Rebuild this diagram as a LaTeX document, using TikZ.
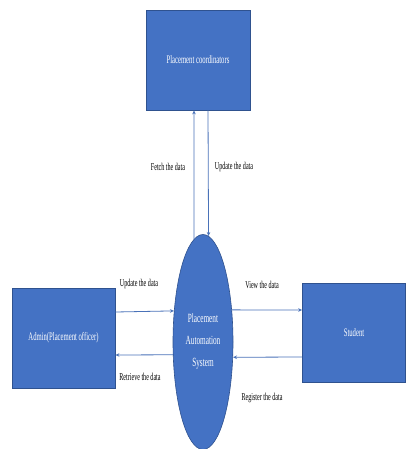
\documentclass[tikz,border=0pt]{standalone}
\usepackage{fontspec}
\setmainfont{Liberation Serif}
\newfontfamily\narrowfont[FakeStretch=0.58]{Liberation Serif}
\usetikzlibrary{shapes.geometric,arrows.meta}
\definecolor{boxblue}{HTML}{4472C4}
\definecolor{edgeblue}{HTML}{2F528F}
\definecolor{lineblue}{HTML}{4A72B8}
\tikzset{
  entity/.style={draw=edgeblue, line width=0.8pt, fill=boxblue, text=white,
    font=\narrowfont\fontsize{11.5}{13}\selectfont, inner sep=0pt},
  proc/.style={ellipse, draw=edgeblue, line width=0.6pt, fill=boxblue, text=white,
    inner sep=0pt, minimum width=60pt, minimum height=215pt, align=center,
    font=\narrowfont\fontsize{12.5}{22}\selectfont},
  flow/.style={draw=lineblue, line width=0.8pt, -{Stealth[length=4pt,width=3.5pt]}},
  lbl/.style={font=\narrowfont\fontsize{10.5}{11}\selectfont, text=black, inner sep=0pt}
}
\begin{document}
\begin{tikzpicture}[x=1pt,y=-1pt]
\useasboundingbox (0,0) rectangle (406,449);
\clip (0,0) rectangle (406,449);
\node[entity, minimum width=104pt, minimum height=100pt] (coord) at (198,60) {Placement coordinators};
\node[entity, minimum width=103pt, minimum height=100pt] (admin) at (63.5,338) {Admin(Placement officer)};
\node[entity, minimum width=103pt, minimum height=99pt] (student) at (354,332.5) {Student};
\node[proc] (pas) at (203,342) {Placement\\Automation\\System};

\draw[flow] (pas.95) -- ([xshift=-4pt]coord.south);
\draw[flow] ([xshift=10pt]coord.south) -- (pas.87.3);
\draw[flow] ([yshift=26pt]admin.east) -- (pas.133.8);
\draw[flow] (pas.203.6) -- ([yshift=-17pt]admin.east);
\draw[flow] (pas.48.2) -- ([yshift=22.5pt]student.west);
\draw[flow] ([yshift=-24.5pt]student.west) -- (pas.333.2);

\node[lbl] (l1) at (168,167) {Fetch the data};
\node[lbl] (l2) at (234,167) {Update the data};
\node[lbl] (l3) at (139,284) {Update the data};
\node[lbl] (l4) at (140,377) {Retrieve the data};
\node[lbl] (l5) at (262,285) {View the data};
\node[lbl] (l6) at (262,398) {Register the data};
\end{tikzpicture}
\end{document}
